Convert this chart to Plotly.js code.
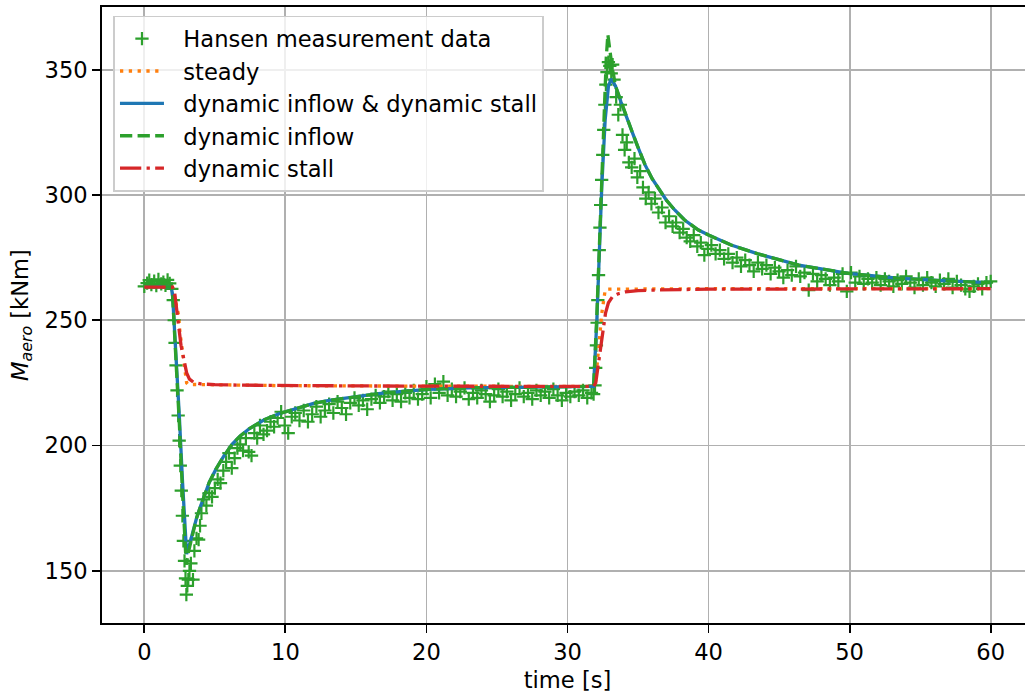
<!DOCTYPE html>
<html>
<head>
<meta charset="utf-8">
<script src="https://cdn.plot.ly/plotly-3.0.1.min.js"></script>
<style>
html, body { margin: 0; padding: 0; overflow: hidden; background: #fff; }
#chart { width: 1040px; height: 693px; }
</style>
</head>
<body>
<div id="chart"></div>
<script>
// ---- Measurement data (Hansen) ----
const measTime = [
  0.0, 0.2, 0.35, 0.5, 0.7, 0.85, 1.0, 1.2, 1.35, 1.5, 1.65, 1.8, 1.95,
  2.05, 2.12, 2.18, 2.25, 2.32, 2.4, 2.47, 2.55, 2.62, 2.7, 2.77, 2.85, 2.92, 2.98, 3.05, 3.12, 3.2,
  3.3, 3.45, 3.55, 3.7, 3.85, 3.95, 4.05, 4.2, 4.4, 4.6, 4.8, 5.0, 5.2, 5.4, 5.6, 5.8, 6.0, 6.2, 6.4, 6.6,
  6.8, 7.0, 7.2, 7.4, 7.6, 7.8, 8.0, 8.2, 8.45, 8.7, 8.95, 9.2, 9.45, 9.7, 9.95, 10.2, 10.45, 10.7,
  11.0, 11.3, 11.6, 11.9, 12.2, 12.5, 12.8, 13.1, 13.4, 13.7, 14.0, 14.3, 14.6, 14.9, 15.2, 15.5, 15.8,
  16.1, 16.4, 16.7, 17.0, 17.3, 17.6, 17.9, 18.2, 18.5, 18.8, 19.1, 19.4, 19.7, 20.0,
  20.3, 20.6, 20.9, 21.2, 21.5, 21.8, 22.1, 22.4, 22.7, 23.0, 23.3, 23.6, 23.9, 24.2, 24.5, 24.8,
  25.1, 25.4, 25.7, 26.0, 26.3, 26.6, 26.9, 27.2, 27.5, 27.8, 28.1, 28.4, 28.7, 29.0, 29.3, 29.6,
  29.9, 30.2, 30.5, 30.8, 31.1, 31.4, 31.7, 31.85,
  31.95, 32.0, 32.05, 32.1, 32.15, 32.2, 32.25, 32.3, 32.35, 32.42, 32.5, 32.57, 32.65, 32.72, 32.8,
  32.9, 33.0, 33.1, 33.2,
  33.3, 33.45, 33.6, 33.75, 33.9, 34.05, 34.2, 34.35, 34.55, 34.75, 34.95, 35.15, 35.35, 35.55, 35.75,
  35.95, 36.2, 36.45, 36.7, 36.95, 37.2, 37.45, 37.7, 37.95, 38.2, 38.45, 38.7, 38.95, 39.2, 39.45,
  39.7, 39.95, 40.2, 40.5, 40.8, 41.1, 41.4, 41.7, 42.0, 42.3, 42.6, 42.9, 43.2, 43.5, 43.8, 44.1,
  44.4, 44.7, 45.0, 45.3, 45.6, 45.9, 46.2, 46.5, 46.8, 47.1, 47.4, 47.7, 48.0, 48.3, 48.6, 48.9,
  49.2, 49.5, 49.8, 50.1, 50.4, 50.7, 51.0, 51.3, 51.6, 51.9, 52.2, 52.5, 52.8, 53.1, 53.4, 53.7,
  54.0, 54.3, 54.6, 54.9, 55.2, 55.5, 55.8, 56.1, 56.4, 56.7, 57.0, 57.3, 57.6, 57.9, 58.2, 58.5,
  58.8, 59.1, 59.4, 59.7, 60.0
];
const measValue = [
  263.5, 264.8, 266.0, 264.2, 265.6, 263.8, 266.3, 264.5, 265.2, 263.9, 266.1, 264.7, 262.5,
  258.0, 250.0, 241.0, 232.0, 222.0, 212.0, 202.0, 192.0, 182.0, 172.0, 162.0, 154.0, 147.0, 140.5, 144.0, 146.5, 150.0,
  153.0, 146.5, 158.0, 163.0, 162.5, 168.0, 173.0, 178.5, 176.0, 181.0, 179.5, 183.0, 186.5, 185.0, 190.0, 193.5, 197.0, 191.0, 195.0, 199.0,
  200.5, 198.0, 203.0, 197.5, 196.0, 205.0, 203.0, 208.0, 204.5, 206.0, 209.5, 207.5, 211.0, 213.5, 208.0, 205.0, 211.5, 213.0,
  210.0, 214.0, 209.5, 212.5, 215.5, 211.5, 214.0, 216.5, 213.0, 217.5, 215.0, 212.5, 217.0, 219.0, 216.0, 218.0, 214.5,
  218.5, 220.0, 217.0, 219.5, 221.5, 218.0, 220.5, 217.5, 221.0, 219.0, 222.0, 218.5, 220.5, 223.5,
  219.0, 224.5, 221.0, 225.5, 220.0, 222.5, 219.5, 221.5, 223.0, 218.5, 221.0, 219.0, 222.0, 220.5, 217.5, 220.0,
  222.5, 219.5, 221.5, 218.0, 220.5, 223.0, 219.5, 221.0, 218.5, 222.0, 220.0, 221.5, 219.0, 222.5, 220.0, 218.0,
  221.0, 219.5, 221.5, 220.0, 222.0, 219.0, 221.0, 220.5,
  224.0, 231.0, 240.0, 249.0, 258.0, 268.0, 278.0, 287.0, 296.0, 306.0, 316.0, 326.0, 336.0, 344.0, 349.0,
  353.0, 351.5, 348.5, 352.0,
  346.0, 339.0, 332.0, 336.0, 324.0, 318.0, 321.0, 313.0, 311.0, 314.5, 307.0, 309.5, 303.0, 298.5, 301.0,
  296.5, 298.5, 293.0, 295.0, 289.0, 291.5, 287.5, 289.0, 285.0, 286.5, 283.0, 281.5, 284.0, 279.5, 281.0,
  276.0, 278.5, 280.0, 276.5, 278.0, 274.5, 276.5, 273.0, 275.0, 271.5, 274.0, 272.0, 269.5, 273.0, 270.5, 272.0,
  268.5, 271.0, 269.5, 267.0, 270.0, 268.0, 271.5, 267.5, 269.0, 262.0, 268.5, 265.5, 268.0, 266.5, 264.0, 267.0,
  265.5, 268.5, 261.5, 269.0, 265.0, 267.5, 264.5, 266.5, 265.0, 267.0, 264.0, 266.5, 265.5, 263.5, 266.0, 264.5,
  267.5, 265.0, 263.0, 266.5, 264.0, 267.0, 265.0, 263.5, 266.0, 264.5, 266.5, 263.0, 265.5, 264.0, 262.5, 261.5,
  263.5, 264.5, 262.5, 265.0, 265.5
];

// ---- Steady model ----
const steadyTime  = [0, 2.0, 2.2, 2.41, 2.53, 2.72, 2.88, 3.0, 3.1, 5, 10, 20, 31.9, 32.0, 32.2, 32.43, 32.67, 32.8, 40, 60];
const steadyValue = [263.2, 263.2, 258, 252.5, 245, 237.5, 232, 225, 224.4, 224.2, 223.9, 223.7, 223.6, 226, 239.3, 252.7, 262, 262.4, 262.6, 262.6];

// ---- Dynamic inflow & dynamic stall ----
const didsTime  = [0, 1.9, 2.0, 2.24, 2.48, 2.71, 3.0, 3.2, 3.42, 3.7, 4.0, 4.3, 4.6, 5.07, 5.6, 6.25, 6.8, 7.43, 8.5, 9.55,
  11, 12, 13.1, 15, 16.6, 18.5, 20.2, 23, 26, 29, 31.85, 32.08, 32.25, 32.43, 32.67, 32.9, 33.1, 33.4, 33.8, 34.2,
  34.56, 35.0, 35.5, 36.0, 36.5, 37.0, 37.6, 38.3, 39.28, 40, 41.6, 43.5, 46.4, 49.9, 53.4, 56.5, 60];
const didsValue = [263.3, 263.3, 260.5, 238.7, 212, 185.3, 156.7, 160.5, 165.3, 171, 176, 181, 185.3, 190.5, 195.5, 200.7, 203.8, 206.7, 210.3, 212.7,
  215.3, 216.8, 218, 219.6, 220.7, 221.7, 222.4, 223, 223.3, 223.5, 223.6, 250, 276.7, 303.3, 330, 343.3, 346.3, 343.5, 337, 330.5,
  325.5, 319, 312, 306.5, 302, 298, 294, 290, 286, 284, 280, 276.5, 272, 268.7, 266.8, 265.8, 265];

// ---- Dynamic inflow only ----
const diTime  = [0, 1.9, 2.0, 2.24, 2.48, 2.71, 2.97, 3.15, 3.42, 3.7, 4.0, 4.3, 4.6, 5.07, 5.6, 6.25, 6.8, 7.43, 8.5, 9.55,
  11, 12, 13.1, 15, 16.6, 18.5, 20.2, 23, 26, 29, 31.85, 32.08, 32.25, 32.43, 32.6, 32.75, 32.86, 33.0, 33.15, 33.4, 33.8, 34.2,
  34.56, 35.0, 35.5, 36.0, 36.5, 37.0, 37.6, 38.3, 39.28, 40, 41.6, 43.5, 46.4, 49.9, 53.4, 56.5, 60];
const diValue = [263.3, 263.3, 260, 237, 209, 181, 152.5, 158, 165, 171, 176, 181, 185.3, 190.5, 195.5, 200.7, 203.8, 206.7, 210.3, 212.7,
  215.3, 216.8, 218, 219.6, 220.7, 221.7, 222.4, 223, 223.3, 223.5, 223.6, 252, 280, 310, 338, 355, 364, 357, 351.5, 343.5, 337, 330.5,
  325.5, 319, 312, 306.5, 302, 298, 294, 290, 286, 284, 280, 276.5, 272, 268.7, 266.8, 265.8, 265];

// ---- Dynamic stall only ----
const dsTime  = [0, 2.0, 2.15, 2.3, 2.45, 2.6, 2.8, 3.0, 3.2, 3.5, 4.0, 5, 7, 10, 15, 20, 25, 31.85, 32.0, 32.2, 32.4, 32.55, 32.7, 32.9,
  33.2, 33.6, 34.1, 35, 36.5, 40, 45, 60];
const dsValue = [263.2, 263.2, 261, 255, 247, 240, 234, 229, 226.5, 225.2, 224.6, 224.3, 224.1, 223.9, 223.8, 223.7, 223.7, 223.6, 225, 232, 241, 247, 253, 257,
  259.5, 260.6, 261.3, 261.8, 262.1, 262.4, 262.5, 262.6];

const seriesNames = ['Hansen measurement data', 'steady', 'dynamic inflow &amp; dynamic stall', 'dynamic inflow', 'dynamic stall'];
const xTicks = [0, 10, 20, 30, 40, 50, 60];
const yTicks = [150, 200, 250, 300, 350];

const FONT = 'DejaVu Sans, sans-serif';
const FS = 22.6;
const LW = 3.3;
const PAD = '\u00a0\u00a0'; // gap between legend sample and label

const traces = [
  { x: measTime, y: measValue, mode: 'markers', type: 'scatter', name: PAD + seriesNames[0],
    marker: { symbol: 'cross-thin', size: 9.5, color: '#2ca02c', line: { color: '#2ca02c', width: 2.2 } } },
  { x: steadyTime, y: steadyValue, mode: 'lines', type: 'scatter', name: PAD + seriesNames[1],
    line: { color: '#ff7f0e', width: LW, dash: '3.3px,5.5px' } },
  { x: didsTime, y: didsValue, mode: 'lines', type: 'scatter', name: PAD + seriesNames[2],
    line: { color: '#1f77b4', width: LW } },
  { x: diTime, y: diValue, mode: 'lines', type: 'scatter', name: PAD + seriesNames[3],
    line: { color: '#2ca02c', width: LW, dash: '12.3px,5.3px' } },
  { x: dsTime, y: dsValue, mode: 'lines', type: 'scatter', name: PAD + seriesNames[4],
    line: { color: '#d62728', width: LW, dash: '21.3px,5.3px,3.3px,5.3px' } }
];

const axisCommon = {
  showgrid: true, gridcolor: '#b0b0b0', gridwidth: 1.8,
  zeroline: false, showline: true, linecolor: '#000', linewidth: 1.8, mirror: true,
  ticks: 'outside', ticklen: 8, tickwidth: 1.8, tickcolor: '#000',
  tickfont: { family: FONT, size: FS, color: '#000' }
};

const layout = {
  width: 1040, height: 693,
  margin: { l: 102, r: 7, t: 7, b: 70 },
  paper_bgcolor: '#fff', plot_bgcolor: '#fff',
  font: { family: FONT, size: FS, color: '#000' },
  showlegend: true,
  legend: {
    x: 0.012, y: 0.986, xanchor: 'left', yanchor: 'top',
    bgcolor: 'rgba(255,255,255,0.8)', bordercolor: '#cccccc', borderwidth: 1.8,
    font: { family: FONT, size: FS, color: '#000' }, itemwidth: 44
  },
  xaxis: Object.assign({}, axisCommon, {
    range: [-3, 63], tickmode: 'array', tickvals: xTicks, ticktext: xTicks.map(String),
    title: { text: 'time [s]', font: { family: FONT, size: FS, color: '#000' }, standoff: 8 }
  }),
  yaxis: Object.assign({}, axisCommon, {
    range: [129.2, 375], tickmode: 'array', tickvals: yTicks, ticktext: yTicks.map(String),
    title: { text: '<i>M</i><sub><i>aero</i></sub> [kNm]', font: { family: FONT, size: FS, color: '#000' }, standoff: 10 }
  })
};

Plotly.newPlot('chart', traces, layout, { staticPlot: true, displayModeBar: false });
</script>
</body>
</html>
